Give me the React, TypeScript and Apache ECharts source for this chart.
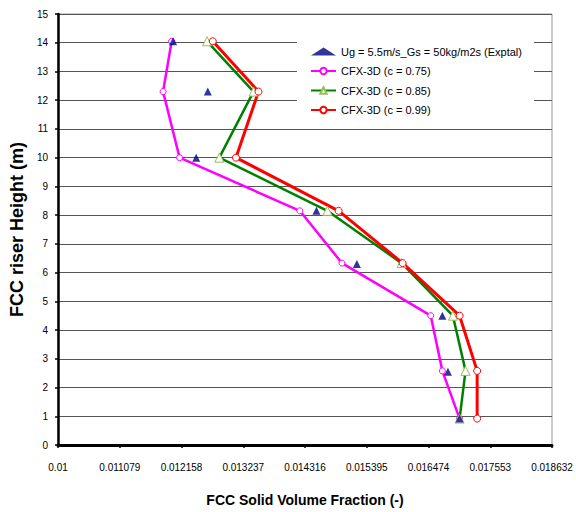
import React, { useEffect, useRef } from "react";
import * as echarts from "echarts";

const expX = [0.01201, 0.012617, 0.012414, 0.014516, 0.015222, 0.016716, 0.016814, 0.017017];
const expY = [14.05, 12.3, 10.0, 8.15, 6.3, 4.5, 2.55, 0.92];

const simY = [14.05, 12.3, 10.0, 8.15, 6.33, 4.5, 2.58, 0.92];
const c075X = [0.011985, 0.011836, 0.012124, 0.014226, 0.014962, 0.016513, 0.016716, 0.017017];
const c085X = [0.012605, 0.013416, 0.012819, 0.014707, 0.016004, 0.0169, 0.017121, 0.017017];
const c099X = [0.012704, 0.013503, 0.013109, 0.014903, 0.016022, 0.017017, 0.017324, 0.017324];

const seriesNames = [
  "Ug = 5.5m/s_Gs = 50kg/m2s (Exptal)",
  "CFX-3D (c = 0.75)",
  "CFX-3D (c = 0.85)",
  "CFX-3D (c = 0.99)",
];

const xMin = 0.01;
const xMax = 0.018632;
const xStep = 0.001079;

const pairs = (xs: number[], ys: number[]) => xs.map((x, i) => [x, ys[i]]);

export default function App() {
  const ref = useRef<HTMLDivElement>(null);
  useEffect(() => {
    document.body.style.margin = "0";
    const chart = echarts.init(ref.current!, null, { renderer: "svg" });
    const font = "'Liberation Sans', Arial, sans-serif";
    chart.setOption({
      animation: false,
      backgroundColor: "#fff",
      grid: {
        left: 55,
        right: 24,
        top: 14,
        bottom: 67,
        show: true,
        borderColor: "#999",
        borderWidth: 1,
      },
      xAxis: {
        type: "value",
        min: xMin,
        max: xMax,
        interval: xStep,
        name: "FCC Solid Volume Fraction (-)",
        nameLocation: "middle",
        nameGap: 48,
        nameTextStyle: { fontFamily: font, fontSize: 14, fontWeight: "bold", color: "#000" },
        axisLine: { show: true, onZero: false, lineStyle: { color: "#000", width: 3 } },
        axisTick: { show: true, length: 3, lineStyle: { color: "#000", width: 1.5 } },
        axisLabel: {
          fontFamily: font,
          fontSize: 10,
          color: "#000",
          margin: 17,
          formatter: (v: number) => String(Number(v.toFixed(6))),
        },
        splitLine: { show: false },
      },
      yAxis: {
        type: "value",
        min: 0,
        max: 15,
        interval: 1,
        name: "FCC riser Height (m)",
        nameLocation: "middle",
        nameGap: 21,
        nameTextStyle: { fontFamily: font, fontSize: 18, fontWeight: "bold", color: "#000" },
        axisLine: { show: true, onZero: false, lineStyle: { color: "#000", width: 2.5 } },
        axisTick: { show: true, length: 3, lineStyle: { color: "#000", width: 1.5 } },
        axisLabel: { fontFamily: font, fontSize: 10, color: "#000", margin: 10 },
        splitLine: { show: true, lineStyle: { color: "#555", width: 1 } },
      },
      legend: {
        data: seriesNames,
        orient: "vertical",
        left: 297,
        top: 22,
        padding: [24, 12, 8, 13],
        backgroundColor: "#fff",
        itemWidth: 25,
        itemHeight: 8,
        itemGap: 8.5,
        textStyle: { fontFamily: font, fontSize: 11, color: "#000" },
      },
      series: [
        {
          name: seriesNames[1],
          type: "line",
          data: pairs(c075X, simY),
          lineStyle: { color: "#ff00ff", width: 2.5 },
          symbol: "circle",
          symbolSize: 6,
          itemStyle: { color: "#fff", borderColor: "#ff00ff", borderWidth: 1 },
          color: "#ff00ff",
        },
        {
          name: seriesNames[2],
          type: "line",
          data: pairs(c085X, simY),
          lineStyle: { color: "#008000", width: 2.5 },
          symbol: "triangle",
          symbolSize: 9,
          itemStyle: { color: "#fff", borderColor: "#9bbb59", borderWidth: 1 },
          color: "#008000",
        },
        {
          name: seriesNames[3],
          type: "line",
          data: pairs(c099X, simY),
          lineStyle: { color: "#ff0000", width: 3 },
          symbol: "circle",
          symbolSize: 7,
          itemStyle: { color: "#fff", borderColor: "#ff0000", borderWidth: 1 },
          color: "#ff0000",
        },
        {
          name: seriesNames[0],
          type: "scatter",
          data: pairs(expX, expY),
          symbol: "triangle",
          symbolSize: 8,
          itemStyle: { color: "#000080" },
          z: 5,
        },
      ],
    });
    return () => chart.dispose();
  }, []);
  return <div ref={ref} style={{ width: 576, height: 512 }} />;
}
